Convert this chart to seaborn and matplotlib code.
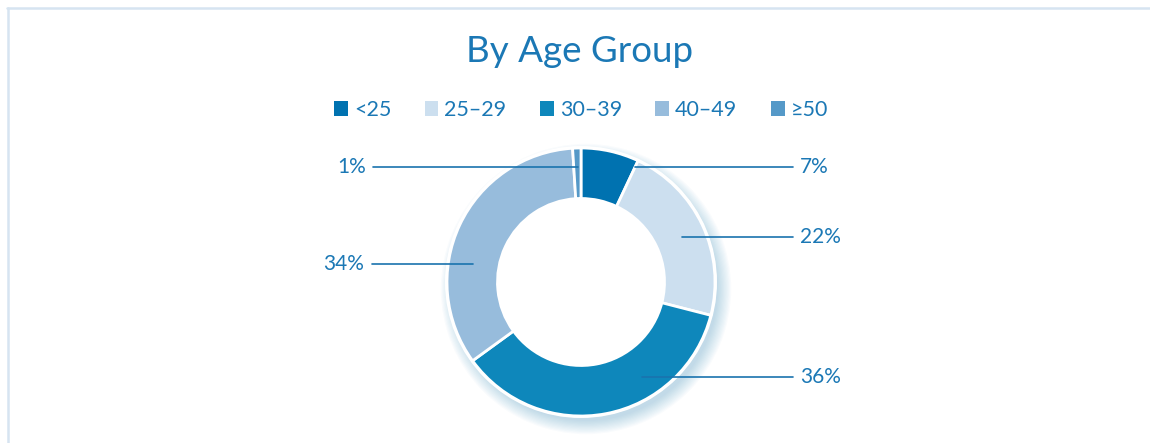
import matplotlib
matplotlib.use("Agg")
import matplotlib.pyplot as plt
import seaborn as sns
from matplotlib.patches import Circle, Patch
from matplotlib.lines import Line2D

# ---- data ----
categories = ["<25", "25–29", "30–39", "40–49", "≥50"]
shares = [7, 22, 36, 34, 1]
colors = ["#0072B0", "#CCDFEF", "#0E87BB", "#97BCDC", "#5599C8"]
title = "By Age Group"

sns.set_theme(style="white")
plt.rcParams["font.family"] = ["Lato", "DejaVu Sans"]

TXT = "#1B78B5"
W, H = 1150, 443
fig = plt.figure(figsize=(W / 100, H / 100), dpi=100)
ax = fig.add_axes([0, 0, 1, 1])
ax.set_xlim(0, W)
ax.set_ylim(0, H)
ax.set_aspect("equal")
ax.axis("off")

def Y(py):
    return H - py

cx, cy = 581, Y(282)
R, r = 134, 83.5

# soft shadow (mostly bottom-right)
for i in range(12):
    ax.add_patch(Circle((cx + 5, cy - 7), R - 2 + i * 1.2, color="#4F9CCB",
                        alpha=0.03, lw=0, zorder=0))
ax.add_patch(Circle((cx, cy), R + 2, color="white", lw=0, zorder=1))

wedges, _ = ax.pie(shares, colors=colors, startangle=90, counterclock=False,
                   radius=R, center=(cx, cy),
                   wedgeprops=dict(width=R - r, edgecolor="white", linewidth=2))
for w in wedges:
    w.set_zorder(2)
ax.set_xlim(0, W)
ax.set_ylim(0, H)

# leader lines and labels (layout: line y, x-from, x-to, text x, ha)
label_layout = {
    "<25": (167, 635, 793, 800, "left"),
    "25–29": (237, 682, 793, 800, "left"),
    "30–39": (377, 642, 793, 800, "left"),
    "40–49": (264, 473, 372, 364, "right"),
    "≥50": (167, 578, 373, 366, "right"),
}
for cat, val in zip(categories, shares):
    ly, x0, x1, tx, ha = label_layout[cat]
    ax.add_line(Line2D([x0, x1], [Y(ly), Y(ly)], color="#1A73AE", lw=1.2, zorder=3))
    ax.text(tx, Y(ly), f"{val}%", ha=ha, va="center", color=TXT, fontsize=15,
            zorder=4)

# title
ax.text(580, Y(51), title, ha="center", va="center", color=TXT, fontsize=26.5)

# legend
handles = [Patch(facecolor=c, edgecolor="none", label=l) for c, l in zip(colors, categories)]
leg = ax.legend(handles=handles, ncol=5, loc="center", bbox_to_anchor=(581 / W, 1 - 110 / H),
                frameon=False, prop=dict(size=15.5),
                handlelength=0.64, handleheight=0.64,
                handletextpad=0.28, columnspacing=1.55, borderpad=0)
for t in leg.get_texts():
    t.set_color(TXT)

# frame
fc = "#D6E4F1"
ax.add_line(Line2D([7.5, 7.5], [Y(8), 0], color=fc, lw=1.8))
ax.add_line(Line2D([6.5, W], [Y(8), Y(8)], color=fc, lw=1.8))

fig.savefig("out.png", dpi=100)
